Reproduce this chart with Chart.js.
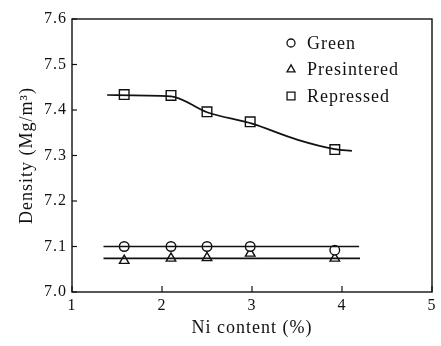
<!DOCTYPE html>
<html>
<head>
<meta charset="utf-8">
<script src="https://cdn.jsdelivr.net/npm/chart.js@4"></script>
<style>
  html, body { margin: 0; padding: 0; background: #fff; }
  #wrap { width: 441px; height: 346px; }
</style>
</head>
<body>
<div id="wrap"><canvas id="canvas" width="441" height="346"></canvas></div>
<script>
// measured points
var niContent = [1.58, 2.1, 2.5, 2.98, 3.92];
var green = [7.100, 7.100, 7.100, 7.100, 7.092];
var presintered = [7.069, 7.074, 7.075, 7.085, 7.074];
var repressed = [7.434, 7.432, 7.396, 7.374, 7.313];

// drawn fit lines
var greenFitX = [1.35, 4.19];
var greenFitY = [7.100, 7.100];
var preFitX = [1.35, 4.2];
var preFitY = [7.074, 7.074];
var repFitX = [1.39, 2.1, 2.5, 3.0, 3.5, 3.92, 4.11];
var repFitY = [7.433, 7.43, 7.395, 7.37, 7.335, 7.314, 7.31];

var xTicks = [1, 2, 3, 4, 5];
var yTicks = [7.0, 7.1, 7.2, 7.3, 7.4, 7.5, 7.6];

var serif = "'Liberation Serif', 'DejaVu Serif', serif";

function pts(xs, ys) {
    return xs.map(function(x, i){ return {x: x, y: ys[i]}; });
}

function fitSet(xs, ys, smooth) {
    return {
        type: 'line',
        data: pts(xs, ys),
        borderColor: '#111',
        borderWidth: 1.7,
        pointRadius: 0,
        fill: false,
        tension: smooth ? 0.4 : 0,
        cubicInterpolationMode: smooth ? 'monotone' : 'default',
        isFit: true
    };
}

function markSet(label, ys, style, r, lr) {
    return {
        type: 'scatter',
        label: label,
        data: pts(niContent, ys),
        pointStyle: style,
        pointRadius: r,
        legendRadius: lr,
        pointBorderColor: '#111',
        pointBackgroundColor: '#fff',
        pointBorderWidth: 1.4,
        showLine: false
    };
}

// frame, inward ticks and in-plot legend
var framePlugin = {
    id: 'frame',
    beforeDraw: function(chart) {
        chart.ctx.letterSpacing = '1px';
    },
    afterDraw: function(chart) {
        var ctx = chart.ctx;
        var a = chart.chartArea;
        var xs = chart.scales.x, ys = chart.scales.y;
        ctx.save();
        ctx.strokeStyle = '#111';
        ctx.lineWidth = 1.4;
        ctx.strokeRect(a.left, a.top, a.right - a.left, a.bottom - a.top);
        ctx.lineWidth = 1.2;
        yTicks.forEach(function(v){
            var py = ys.getPixelForValue(v);
            ctx.beginPath(); ctx.moveTo(a.left, py); ctx.lineTo(a.left + 5, py); ctx.stroke();
        });
        xTicks.forEach(function(v){
            var px = xs.getPixelForValue(v);
            ctx.beginPath(); ctx.moveTo(px, a.bottom); ctx.lineTo(px, a.bottom - 6); ctx.stroke();
        });

        // legend
        var marks = chart.data.datasets.filter(function(d){ return !d.isFit; });
        ctx.font = "18px " + serif;
        ctx.textBaseline = 'middle';
        marks.forEach(function(d, i){
            var lx = 291, ly = 43 + i * 26.5;
            ctx.fillStyle = '#fff';
            ctx.strokeStyle = '#111';
            ctx.lineWidth = 1.3;
            Chart.helpers.drawPoint(ctx, {
                pointStyle: d.pointStyle, radius: d.legendRadius, borderWidth: 1.3
            }, lx, ly);
            ctx.fillStyle = '#111';
            ctx.fillText(d.label, 307, ly + 1);
        });
        ctx.restore();
    }
};

var ctx = document.getElementById('canvas');
new Chart(ctx, {
    data: {
        datasets: [
            fitSet(greenFitX, greenFitY, false),
            fitSet(preFitX, preFitY, false),
            fitSet(repFitX, repFitY, true),
            markSet('Green', green, 'circle', 4.8, 4),
            markSet('Presintered', presintered, 'triangle', 5.5, 4.6),
            markSet('Repressed', repressed, 'rect', 6.8, 5.6)
        ]
    },
    options: {
        responsive: false,
        animation: false,
        layout: { padding: { top: 19, right: 9, left: 0, bottom: 0 } },
        plugins: {
            legend: { display: false },
            tooltip: { enabled: false }
        },
        scales: {
            x: {
                type: 'linear',
                min: 1, max: 5,
                afterFit: function(s){ s.height = 54; },
                afterBuildTicks: function(s){ s.ticks = xTicks.map(function(v){ return {value: v}; }); },
                grid: { display: false, drawTicks: false },
                border: { display: false },
                ticks: { color: '#111', font: { family: serif, size: 16 }, padding: 4 },
                title: { display: true, text: 'Ni content (%)', color: '#111',
                         font: { family: serif, size: 18 }, padding: { top: 0, bottom: 7 } }
            },
            y: {
                type: 'linear',
                min: 7.0, max: 7.6,
                afterFit: function(s){ s.width = 72; },
                afterBuildTicks: function(s){ s.ticks = yTicks.map(function(v){ return {value: v}; }); },
                grid: { display: false, drawTicks: false },
                border: { display: false },
                ticks: { color: '#111', font: { family: serif, size: 16 }, padding: 5,
                         callback: function(v){ return v.toFixed(1); } },
                title: { display: true, text: 'Density (Mg/m³)', color: '#111',
                         font: { family: serif, size: 18 }, padding: { top: 16, bottom: 0 } }
            }
        }
    },
    plugins: [framePlugin]
});
</script>
</body>
</html>
